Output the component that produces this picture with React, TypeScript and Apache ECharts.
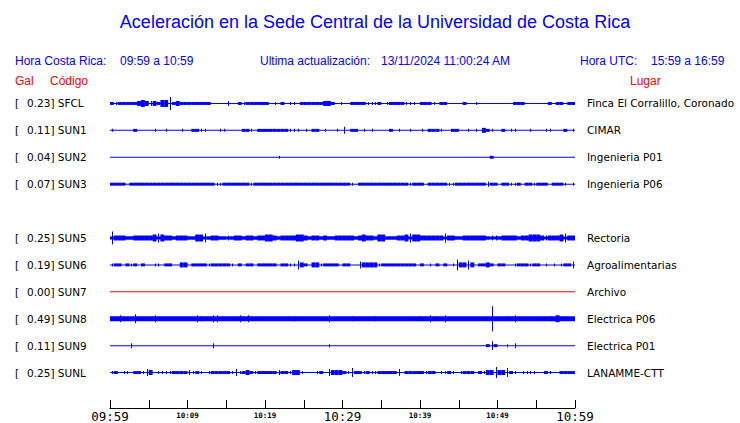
import React, { useEffect, useRef } from "react";
import * as echarts from "echarts";

// ---- Texts ----
const TITLE = "Aceleración en la Sede Central de la Universidad de Costa Rica";
const LOCAL_LABEL = "Hora Costa Rica:";
const LOCAL_RANGE = "09:59 a 10:59";
const UPDATE_LABEL = "Ultima actualización:";
const UPDATE_VALUE = "13/11/2024 11:00:24 AM";
const UTC_LABEL = "Hora UTC:";
const UTC_RANGE = "15:59 a 16:59";
const COL_GAL = "Gal";
const COL_CODE = "Código";
const COL_PLACE = "Lugar";

// ---- Stations (row 4 is an empty slot) ----
const codes = ["SFCL", "SUN1", "SUN2", "SUN3", "", "SUN5", "SUN6", "SUN7", "SUN8", "SUN9", "SUNL"];
const galValues = ["0.23", "0.11", "0.04", "0.07", "", "0.25", "0.19", "0.00", "0.49", "0.11", "0.25"];
const places = [
  "Finca El Corralillo, Coronado",
  "CIMAR",
  "Ingenieria P01",
  "Ingenieria P06",
  "",
  "Rectoria",
  "Agroalimentarias",
  "Archivo",
  "Electrica P06",
  "Electrica P01",
  "LANAMME-CTT",
];
const traceColors = ["#0000ff", "#0000ff", "#0000ff", "#0000ff", "#0000ff", "#0000ff", "#0000ff", "#ff0000", "#0000ff", "#0000ff", "#0000ff"];
// continuous background amplitude of each trace
const baseAmp = [0, 0, 0, 0, 0, 1, 0, 0, 2, 0, 0];

// ---- Amplitude envelopes, one char per 30 s bin (120 bins = 60 min) ----
// digit = burst half-amplitude, letter = narrow spike half-amplitude (a=1, b=2, ...)
const envSFCL = "1a11111232 b2133f1211 1111110000 b001a11111 10a010aa01 111112210a 001111aaa1 0a1111aaa0 111a011000 0100a00000 0000111000 0001011011";
const envSUN1 = "a000001000 0a00a000a0 011aa000aa 000011a011 111111aaa0 a0110a00a0 c0110a0a00 0010a00a00 a0111a0011 00a0a021a0 010aa000a0 00aa00010a";
const envSUN2 = "0000000000 0000000000 0000000000 0000000000 000a000000 0000000000 0000000000 0000000000 0000000000 0000000010 0000000000 0000000000";
const envSUN3 = "1111011111 1111111111 1111111aa1 111111a111 1111111111 1111111111 11a0111111 1111111a11 1011111aa1 1111111b11 011aa1011a 1110111a0a";
const envSUN5 = "f222112222 23d3221222 1133d12211 b122122122 3321222233 2122121122 2221232213 3111223d33 222222d221 12222221bb 1222212233 32b2223d22";
const envSUN6 = "a1101a1010 0aa0110022 01111a1111 1a01011011 111011aad2 1022a11110 1100c2222a 1111111110 10a01010ae 22d2011210 1100a111a1 10a0a0a11c";
const envSUN7 = "0000000000 0000000000 0000000000 0000000000 0000000000 0000000000 0000000000 0000000000 0000000000 0000000000 0000000000 0000000000";
const envSUN8 = "00c000d000 0c00000000 00cb00cc00 000c0c0000 0000000b00 000000c000 00b00000b0 000000000b 00c0b0c000 00000000l0 00b0c00000 000b030000";
const envSUN9 = "00000b0000 0000000000 000000b000 0000000000 0000000000 000000a000 0000000000 0000000000 0000000000 00000001d1 00a0b00000 0000000000";
const envSUNL = "a10aa011ac 20aaaa1111 ba1a0a1111 1aca121a11 111b11a22a 000a10c222 1ad11a1aa1 1111c01111 1a110aa1a0 a11101a22e 22d1a0aaaa 001a001111";
const envelopes = [envSFCL, envSUN1, envSUN2, envSUN3, "", envSUN5, envSUN6, envSUN7, envSUN8, envSUN9, envSUNL];

// ---- Time axis ----
const MINUTES = 60;
const BIN_MIN = 0.5;
const TICK_STEP = 5;
const tickLabels = ["09:59", "", "10:09", "", "10:19", "", "10:29", "", "10:39", "", "10:49", "", "10:59"];
const majorTicks = ["09:59", "10:29", "10:59"];

const ROW_PX = 27; // amplitude unit = band height / ROW_PX

export default function App() {
  const ref = useRef<HTMLDivElement>(null);

  useEffect(() => {
    if (!ref.current) return;
    const chart = echarts.init(ref.current, undefined, { renderer: "svg" });

    const binData: number[][] = [];
    envelopes.forEach((env, row) => {
      const s = env.replace(/ /g, "");
      for (let i = 0; i < s.length; i++) {
        const ch = s[i];
        let block = 0;
        let thin = 0;
        if (ch >= "0" && ch <= "9") block = ch.charCodeAt(0) - 48;
        else thin = ch.charCodeAt(0) - 96;
        if (block > 0 || thin > 0) binData.push([i * BIN_MIN, row, block, thin]);
      }
    });
    const baseData: number[][] = [];
    envelopes.forEach((env, row) => {
      if (env) baseData.push([0, row, baseAmp[row]]);
    });

    const txt = (text: string, x: number, y: number, fill: string, font: string, align = "left") => ({
      type: "text",
      x,
      y,
      silent: true,
      style: { text, fill, font, textAlign: align, textVerticalAlign: "middle" },
    });
    const blue = "#0000ff";
    const red = "#ff0000";
    const hFont = '12px "Liberation Sans", Arial, sans-serif';

    chart.setOption({
      animation: false,
      backgroundColor: "#ffffff",
      graphic: [
        txt(TITLE, 375, 22, blue, '18px "Liberation Sans", Arial, sans-serif', "center"),
        txt(LOCAL_LABEL, 15, 61, blue, hFont),
        txt(LOCAL_RANGE, 120, 61, blue, hFont),
        txt(UPDATE_LABEL, 260, 61, blue, hFont),
        txt(UPDATE_VALUE, 381, 61, blue, hFont),
        txt(UTC_LABEL, 580, 61, blue, hFont),
        txt(UTC_RANGE, 651, 61, blue, hFont),
        txt(COL_GAL, 15, 81, red, hFont),
        txt(COL_CODE, 50, 81, red, hFont),
        txt(COL_PLACE, 630, 81, red, hFont),
      ],
      grid: { left: 110, right: 165, top: 90, bottom: 36, containLabel: false },
      xAxis: {
        type: "value",
        min: 0,
        max: MINUTES,
        interval: TICK_STEP,
        offset: 22,
        axisLine: { show: true, lineStyle: { color: "#000", width: 1 } },
        axisTick: { show: true, inside: true, length: 8, lineStyle: { color: "#000", width: 1 } },
        splitLine: { show: false },
        axisLabel: {
          margin: 2,
          formatter: (v: number) => {
            const lab = tickLabels[Math.round(v / TICK_STEP)] || "";
            if (!lab) return "";
            return majorTicks.includes(lab) ? `{big|${lab}}` : `{small|${lab}}`;
          },
          rich: {
            big: { fontFamily: '"DejaVu Sans Mono", monospace', fontSize: 12.5, color: "#000", lineHeight: 13 },
            small: { fontFamily: '"DejaVu Sans Mono", monospace', fontSize: 7.5, fontWeight: "bold", color: "#000", lineHeight: 11 },
          },
        },
      },
      yAxis: [
        {
          type: "category",
          data: codes,
          inverse: true,
          axisLine: { show: false },
          axisTick: { show: false },
          splitLine: { show: false },
          axisLabel: {
            align: "left",
            margin: 95,
            formatter: (_v: string, idx: number) => {
              if (!codes[idx]) return "";
              return `{b|[}{v|${galValues[idx]}]} {c|${codes[idx]}}`;
            },
            rich: {
              b: { width: 12, fontFamily: '"DejaVu Sans", sans-serif', fontSize: 10.5, color: "#000" },
              v: { fontFamily: '"DejaVu Sans", sans-serif', fontSize: 10.5, color: "#000" },
              c: { fontFamily: '"DejaVu Sans", sans-serif', fontSize: 10.5, color: "#000" },
            },
          },
        },
        {
          type: "category",
          data: places,
          inverse: true,
          position: "right",
          axisLine: { show: false },
          axisTick: { show: false },
          splitLine: { show: false },
          axisLabel: {
            align: "left",
            margin: 12,
            fontFamily: '"DejaVu Sans", sans-serif',
            fontSize: 10.5,
            color: "#000",
          },
        },
      ],
      series: [
        {
          type: "custom",
          name: "baseline",
          yAxisIndex: 0,
          encode: { x: 0, y: 1 },
          data: baseData,
          renderItem: (_p: any, api: any) => {
            const row = api.value(1);
            const base = api.value(2);
            const a = api.coord([0, row]);
            const b = api.coord([MINUTES, row]);
            const unit = api.size([0, 1])[1] / ROW_PX;
            const h = base * unit;
            return {
              type: "rect",
              shape: { x: a[0], y: a[1] - h - 0.5, width: b[0] - a[0], height: 2 * h + 1 },
              style: { fill: traceColors[row] },
            };
          },
        },
        {
          type: "custom",
          name: "envelope",
          yAxisIndex: 0,
          encode: { x: 0, y: 1 },
          data: binData,
          renderItem: (_p: any, api: any) => {
            const t = api.value(0);
            const row = api.value(1);
            const block = api.value(2);
            const thin = api.value(3);
            const p0 = api.coord([t, row]);
            const p1 = api.coord([t + BIN_MIN, row]);
            const cy = p0[1];
            const unit = api.size([0, 1])[1] / ROW_PX;
            const color = traceColors[row];
            const children: any[] = [];
            if (block > 0) {
              const h = block * unit;
              children.push({
                type: "rect",
                shape: { x: p0[0], y: cy - h - 0.5, width: p1[0] - p0[0], height: 2 * h + 1 },
                style: { fill: color },
              });
            }
            if (thin > 0) {
              const h = thin * unit;
              const xm = Math.round((p0[0] + p1[0]) / 2);
              children.push({
                type: "rect",
                shape: { x: xm, y: cy - h - 0.5, width: 1, height: 2 * h + 1 },
                style: { fill: color },
              });
            }
            return { type: "group", children };
          },
        },
      ],
    });

    return () => chart.dispose();
  }, []);

  return <div ref={ref} style={{ width: 740, height: 423, position: "absolute", left: 0, top: 0 }} />;
}
